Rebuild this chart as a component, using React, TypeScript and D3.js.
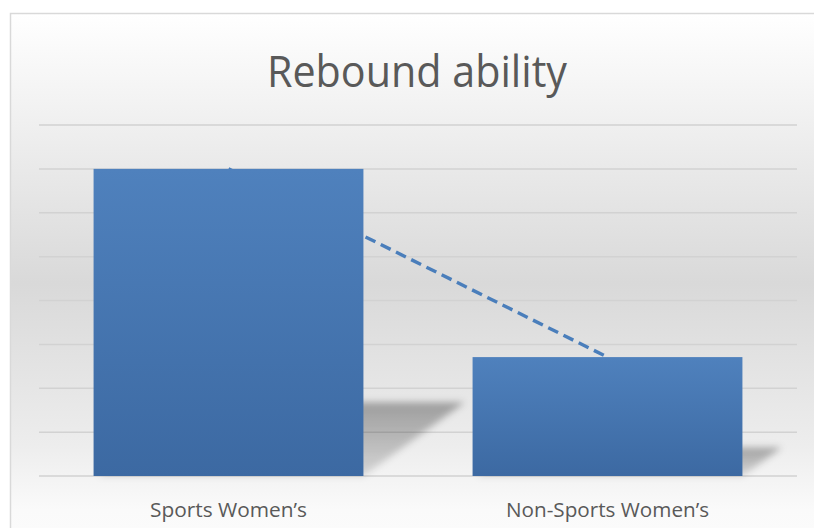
import React from "react";
import * as d3 from "d3";

const title = "Rebound ability";
const categories = ["Sports Women’s", "Non-Sports Women’s"];
const values = [7, 2.71];
const yTicks = [0, 1, 2, 3, 4, 5, 6, 7, 8];
const labelWidths = [157, 203];

const W = 814;
const H = 528;

export default function App() {
  const x = d3
    .scaleBand<string>()
    .domain(categories)
    .range([39, 797])
    .paddingInner(0.288)
    .paddingOuter(0.144);
  const y = d3.scaleLinear().domain([0, 8]).range([476, 125]);
  const base = y(0);
  const bw = x.bandwidth();

  const pts: [number, number][] = categories.map((c, i) => [
    (x(c) as number) + bw / 2,
    y(values[i]),
  ]);
  const line = d3.line()(pts) as string;

  return (
    <div style={{ position: "fixed", left: 0, top: 0, width: W, height: H, background: "#fff" }}>
      <svg width={W} height={H} style={{ display: "block" }}>
        <defs>
          <linearGradient id="bg" x1="0" y1="0" x2="0" y2="1">
            <stop offset="0" stopColor="#ffffff" />
            <stop offset="0.16" stopColor="#f3f3f3" />
            <stop offset="0.5" stopColor="#d9d9d9" />
            <stop offset="0.8" stopColor="#ededed" />
            <stop offset="0.92" stopColor="#fafafa" />
            <stop offset="1" stopColor="#fcfcfc" />
          </linearGradient>
          <linearGradient id="bar" x1="0" y1="0" x2="0" y2="1">
            <stop offset="0" stopColor="#4f81bd" />
            <stop offset="1" stopColor="#3c69a2" />
          </linearGradient>
          <linearGradient id="shade" x1="0" y1="0" x2="0" y2="1">
            <stop offset="0" stopColor="#000" stopOpacity={0.32} />
            <stop offset="1" stopColor="#000" stopOpacity={0.12} />
          </linearGradient>
          <filter id="blur" x="-30%" y="-30%" width="160%" height="160%">
            <feGaussianBlur stdDeviation="3.5" />
          </filter>
        </defs>
        <rect x={10.5} y={13.5} width={830} height={540} fill="url(#bg)" stroke="#d9d9d9" strokeWidth={1.5} />
        <text
          x={417}
          y={87}
          textAnchor="middle"
          fontFamily="'Open Sans', sans-serif"
          fontSize={43}
          fill="#595959"
          textLength={300}
          lengthAdjust="spacingAndGlyphs"
        >
          {title}
        </text>
        {yTicks.map((t) => (
          <line key={t} x1={39} x2={797} y1={y(t)} y2={y(t)} stroke="#d2d2d2" strokeWidth={1.5} />
        ))}
        {categories.map((c, i) => {
          const x0 = x(c) as number;
          const h = base - y(values[i]);
          const sh = 0.33 * h;
          const rise = 0.24 * h;
          const poly = [
            [x0 + 4, base],
            [x0 + bw, base],
            [x0 + bw + sh, base - rise],
            [x0 + sh, base - rise],
          ]
            .map((p) => p.join(","))
            .join(" ");
          return <polygon key={"s" + c} points={poly} fill="url(#shade)" filter="url(#blur)" />;
        })}
        <path d={line} fill="none" stroke="#4a7ebb" strokeWidth={3.4} strokeDasharray="11 6" />
        {categories.map((c, i) => (
          <rect key={c} x={x(c)} y={y(values[i])} width={bw} height={base - y(values[i])} fill="url(#bar)" />
        ))}
        {categories.map((c, i) => (
          <text
            key={"l" + c}
            x={(x(c) as number) + bw / 2}
            y={517}
            textAnchor="middle"
            fontFamily="'Open Sans', sans-serif"
            fontSize={20}
            fill="#595959"
            textLength={labelWidths[i]}
            lengthAdjust="spacingAndGlyphs"
          >
            {c}
          </text>
        ))}
      </svg>
    </div>
  );
}
